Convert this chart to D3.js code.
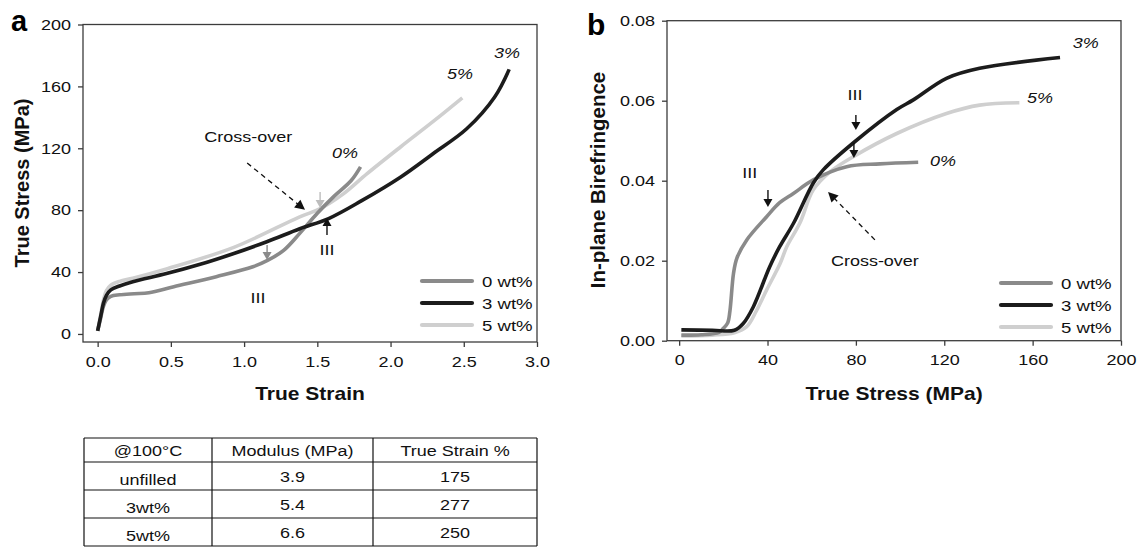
<!DOCTYPE html>
<html>
<head>
<meta charset="utf-8">
<script src="https://cdn.jsdelivr.net/npm/d3@7"></script>
<style>
  html, body { margin: 0; padding: 0; background: #fff; }
  svg { display: block; font-family: "Liberation Sans", Arial, sans-serif; }
</style>
</head>
<body>
<svg id="fig" width="1137" height="547"></svg>
<script>
// ---- Panel a: true stress vs true strain ----
const strain0 = [0, 0.02, 0.04, 0.06, 0.09, 0.15, 0.25, 0.35, 0.52, 0.81, 1.06, 1.16, 1.27, 1.38, 1.50, 1.61, 1.73, 1.795];
const stress0 = [2, 10, 18, 22, 24.3, 25.3, 26, 26.6, 30.5, 37, 43.4, 47.5, 54, 65, 78, 88.6, 99, 108];
const strain3 = [0, 0.02, 0.04, 0.06, 0.09, 0.15, 0.24, 0.47, 0.70, 0.93, 1.155, 1.38, 1.577, 1.80, 2.07, 2.29, 2.52, 2.71, 2.81];
const stress3 = [2, 11, 20, 25, 28.5, 31, 33.8, 39, 45, 52, 59.6, 68, 74.6, 86, 101.5, 116.5, 132.6, 153, 171];
const strain5 = [0, 0.02, 0.04, 0.06, 0.09, 0.15, 0.24, 0.47, 0.93, 1.38, 1.52, 1.68, 1.84, 2.07, 2.30, 2.49];
const stress5 = [2, 12, 22, 28, 31.5, 34, 36, 42, 56, 75.7, 81, 90.7, 103.6, 121, 138, 152.6];
const strainTicks = [0, 0.5, 1.0, 1.5, 2.0, 2.5, 3.0];
const stressTicksA = [0, 40, 80, 120, 160, 200];

// ---- Panel b: in-plane birefringence vs true stress ----
const stressB0 = [1, 10, 18, 20, 22, 23, 24.6, 26.1, 30.6, 39.6, 45.5, 51.7, 60.7, 75.8, 90.9, 108.2];
const biref0   = [0.0014, 0.0015, 0.0021, 0.0031, 0.0045, 0.0075, 0.0168, 0.0206, 0.0252, 0.031, 0.0345, 0.0368, 0.0402, 0.0435, 0.0442, 0.0446];
const stressB3 = [1, 15, 25, 29, 33.6, 41, 45.5, 51.7, 60.8, 65.2, 79.6, 98.5, 106, 121, 136, 172.4];
const biref3   = [0.0027, 0.0026, 0.0026, 0.0043, 0.0085, 0.0185, 0.0235, 0.0293, 0.0395, 0.0427, 0.0498, 0.0578, 0.0602, 0.0656, 0.0681, 0.0708];
const stressB5 = [1, 15, 25, 30.6, 35, 39.6, 45.7, 48.7, 54.7, 60.7, 68.3, 78.8, 98.5, 121, 136, 154];
const biref5   = [0.0012, 0.0014, 0.002, 0.0035, 0.0075, 0.0127, 0.0193, 0.0235, 0.0295, 0.0377, 0.0422, 0.046, 0.0518, 0.0568, 0.0589, 0.0595];
const stressTicksB = [0, 40, 80, 120, 160, 200];
const birefTicks = [0, 0.02, 0.04, 0.06, 0.08];

const seriesNames = ["0 wt%", "3 wt%", "5 wt%"];
const endLabels = ["0%", "3%", "5%"];
const seriesColors = ["#8a8a8a", "#1c1c1c", "#cfcfcf"];

// ---- Table ----
const tableHeader = ["@100°C", "Modulus (MPa)", "True Strain %"];
const tableSamples = ["unfilled", "3wt%", "5wt%"];
const tableModulus = ["3.9", "5.4", "6.6"];
const tableStrain = ["175", "277", "250"];

const svg = d3.select("#fig");
const axisColor = "#3c3c3c";
const SX = 1.2;           // horizontal glyph stretch used for horizontal text

function zip(xs, ys) { return xs.map((x, i) => [x, ys[i]]); }

// horizontal text, widened by SX around its anchor point
function htext(g, px, py, txt, opts = {}) {
  return g.append("text")
    .attr("transform", `translate(${px},${py}) scale(${SX},1)`)
    .attr("font-size", opts.size || 15)
    .attr("font-style", opts.italic ? "italic" : null)
    .attr("font-weight", opts.bold ? "bold" : null)
    .attr("text-anchor", opts.anchor || "start")
    .attr("fill", "#111").text(txt);
}

// rotated (vertical) axis title
function vtext(g, px, py, txt, opts = {}) {
  return g.append("text")
    .attr("transform", `translate(${px},${py}) rotate(-90)`)
    .attr("font-size", opts.size || 15)
    .attr("font-weight", opts.bold ? "bold" : null)
    .attr("text-anchor", "middle")
    .attr("fill", "#111").text(txt);
}

function arrow(g, x1, y1, x2, y2, opts) {
  const color = opts.color || "#111";
  const headLen = opts.headLen || 8, headW = opts.headW || 4;
  const dx = x2 - x1, dy = y2 - y1, len = Math.hypot(dx, dy);
  const ux = dx / len, uy = dy / len;
  const bx = x2 - ux * headLen, by = y2 - uy * headLen;
  g.append("line")
    .attr("x1", x1).attr("y1", y1).attr("x2", bx + ux).attr("y2", by + uy)
    .attr("stroke", color).attr("stroke-width", opts.width || 1.4)
    .attr("stroke-dasharray", opts.dash || null);
  g.append("path")
    .attr("d", `M${x2},${y2}L${bx - uy * headW},${by + ux * headW}L${bx + uy * headW},${by - ux * headW}Z`)
    .attr("fill", color);
}

function frame(g, x, y, xTicks, yTicks, xFmt, yFmt) {
  const [x0, x1] = x.range();
  const [y0, y1] = y.range();
  const ax = g.append("g").attr("transform", `translate(0,${y0})`)
    .call(d3.axisBottom(x).tickValues(xTicks).tickFormat(xFmt).tickSizeOuter(0).tickSizeInner(5).tickPadding(9));
  const ay = g.append("g").attr("transform", `translate(${x0},0)`)
    .call(d3.axisLeft(y).tickValues(yTicks).tickFormat(yFmt).tickSizeOuter(0).tickSizeInner(5).tickPadding(5));
  [ax, ay].forEach(a => {
    a.select(".domain").remove();
    a.selectAll("line").attr("stroke", axisColor).attr("stroke-width", 1.3);
    a.selectAll("text").attr("font-size", 15).attr("fill", "#111")
      .attr("font-family", "'Liberation Sans', Arial, sans-serif")
      .attr("transform", `scale(${SX},1)`);
  });
  g.append("rect")
    .attr("x", x0).attr("y", y1).attr("width", x1 - x0).attr("height", y0 - y1)
    .attr("fill", "none").attr("stroke", axisColor).attr("stroke-width", 1.3);
}

function legend(g, x, y) {
  seriesNames.forEach((name, i) => {
    const yy = y + i * 22;
    g.append("line").attr("x1", x).attr("x2", x + 50).attr("y1", yy).attr("y2", yy)
      .attr("stroke", seriesColors[i]).attr("stroke-width", 4.2).attr("stroke-linecap", "round");
    htext(g, x + 60, yy + 5.5, name, { size: 15.5 });
  });
}

function drawCurves(g, x, y, sets) {
  const line = d3.line().x(d => x(d[0])).y(d => y(d[1])).curve(d3.curveCatmullRom.alpha(0.5));
  // light first, then mid gray, then black on top
  [2, 0, 1].forEach(i => {
    g.append("path").datum(sets[i]).attr("d", line)
      .attr("fill", "none").attr("stroke", seriesColors[i])
      .attr("stroke-width", 3.6).attr("stroke-linejoin", "round").attr("stroke-linecap", "butt");
  });
}

// ================= Panel a =================
const gA = svg.append("g");
const xA = d3.scaleLinear().domain([-0.1, 3.0]).range([83, 537]);
const yA = d3.scaleLinear().domain([-5.2, 200]).range([342, 24.5]);
frame(gA, xA, yA, strainTicks, stressTicksA, d3.format(".1f"), d3.format("d"));
drawCurves(gA, xA, yA, [zip(strain0, stress0), zip(strain3, stress3), zip(strain5, stress5)]);

htext(gA, xA(1.60), yA(113.7), endLabels[0], { italic: true });
htext(gA, xA(2.386), yA(164.8), endLabels[2], { italic: true });
htext(gA, xA(2.707), yA(178.3), endLabels[1], { italic: true });

htext(gA, xA(1.028), yA(124), "Cross-over", { anchor: "middle" });
arrow(gA, xA(1.021), yA(110.5), xA(1.416), yA(80.2), { dash: "5,4", headLen: 10, headW: 5, width: 1.3 });
arrow(gA, xA(1.519), yA(91.7), xA(1.519), yA(81.4), { color: "#bdbdbd", headLen: 8, headW: 4.5 });
arrow(gA, xA(1.566), yA(64), xA(1.566), yA(75), { color: "#111", headLen: 8, headW: 4.5 });
arrow(gA, xA(1.157), yA(57.5), xA(1.157), yA(47.8), { color: "#8a8a8a", headLen: 8, headW: 4.5 });
htext(gA, xA(1.566), yA(51), "III", { anchor: "middle" });
htext(gA, xA(1.095), yA(20), "III", { anchor: "middle" });

legend(gA, 422, 281);

gA.append("text").attr("x", 11).attr("y", 31).attr("font-size", 29).attr("font-weight", "bold").text("a");
vtext(gA, 29, 183, "True Stress (MPa)", { size: 20, bold: true });
htext(gA, 310, 400, "True Strain", { size: 17.5, bold: true, anchor: "middle" });

// ================= Panel b =================
const gB = svg.append("g");
const xB = d3.scaleLinear().domain([-5.5, 200]).range([667, 1121]);
const yB = d3.scaleLinear().domain([0, 0.08]).range([340.7, 20.7]);
frame(gB, xB, yB, stressTicksB, birefTicks, d3.format("d"), d3.format(".2f"));
drawCurves(gB, xB, yB, [zip(stressB0, biref0), zip(stressB3, biref3), zip(stressB5, biref5)]);

htext(gB, xB(113.5), yB(0.0437), endLabels[0], { italic: true });
htext(gB, xB(157.4), yB(0.0594), endLabels[2], { italic: true });
htext(gB, xB(178.2), yB(0.0732), endLabels[1], { italic: true });

htext(gB, xB(79.6), yB(0.0602), "III", { anchor: "middle" });
arrow(gB, xB(80), yB(0.05643), xB(80), yB(0.05268), { headLen: 8, headW: 4.5 });
arrow(gB, xB(79.1), yB(0.0494), xB(79.1), yB(0.0457), { headLen: 8, headW: 4.5 });
htext(gB, xB(32), yB(0.0407), "III", { anchor: "middle" });
arrow(gB, xB(40.2), yB(0.0377), xB(40.2), yB(0.0334), { headLen: 8, headW: 4.5 });
arrow(gB, xB(88.6), yB(0.0252), xB(67.4), yB(0.0372), { dash: "5,4", headLen: 10, headW: 5, width: 1.3 });
htext(gB, xB(88.6), yB(0.0187), "Cross-over", { anchor: "middle" });

legend(gB, 1001, 283);

gB.append("text").attr("x", 587).attr("y", 35).attr("font-size", 30).attr("font-weight", "bold").text("b");
vtext(gB, 605, 180, "In-plane Birefringence", { size: 20.5, bold: true });
htext(gB, 894, 400, "True Stress (MPa)", { size: 17.5, bold: true, anchor: "middle" });

// ================= Table =================
const gT = svg.append("g");
const colX = [84, 212, 373, 537];
const rowY = [438, 462, 490, 518, 546];
const tableRows = [tableHeader].concat(tableSamples.map((s, i) => [s, tableModulus[i], tableStrain[i]]));
tableRows.forEach((row, r) => {
  row.forEach((cell, c) => {
    const cx = (colX[c] + colX[c + 1]) / 2;
    const by = r === 0 ? rowY[1] - 6 : rowY[r + 1] - (c === 0 ? 5 : 8);
    htext(gT, cx, by, cell, { anchor: "middle" });
  });
});
rowY.forEach(y => gT.append("line").attr("x1", colX[0]).attr("x2", colX[3]).attr("y1", y).attr("y2", y)
  .attr("stroke", "#111").attr("stroke-width", 1.2));
colX.forEach(x => gT.append("line").attr("x1", x).attr("x2", x).attr("y1", rowY[0]).attr("y2", rowY[4])
  .attr("stroke", "#111").attr("stroke-width", 1.2));
</script>
</body>
</html>
